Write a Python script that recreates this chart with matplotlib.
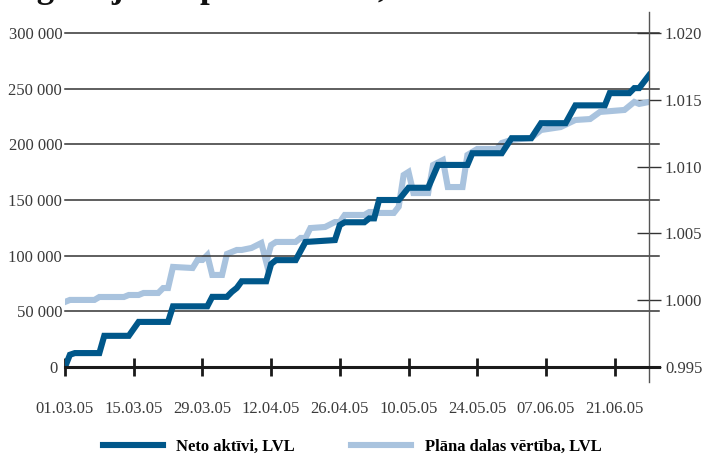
import matplotlib
matplotlib.use("Agg")
import matplotlib.pyplot as plt
import matplotlib.transforms as mtransforms
from matplotlib.lines import Line2D
import pandas as pd

plt.rcParams['font.family'] = ['Liberation Serif', 'DejaVu Serif']

# ---- data ----
start_date = "2005-03-01"
end_date = "2005-06-28"

# Neto aktivi, LVL (left axis) : day offset from 01.03.05, value
neto_days = [0, 1, 2, 7, 8, 13, 15, 21, 22, 29, 30, 33, 34, 35, 36, 41, 42, 43, 47, 49,
             55, 56, 57, 61, 62, 63, 64, 68, 70, 74, 76, 82, 83, 89, 91, 95, 97, 102,
             104, 110, 111, 115, 116, 117, 119]
neto_vals = [0, 11000, 12500, 12500, 28000, 28000, 40500, 40500, 54500, 54500, 63000,
             63000, 67500, 71000, 77000, 77000, 92500, 96000, 96000, 112300, 114000,
             127500, 130000, 130000, 133500, 133500, 150000, 150000, 161000, 161000,
             181500, 181500, 192000, 192000, 205500, 205500, 219000, 219000, 235000,
             235000, 246000, 246000, 250500, 250500, 262000]

# Plana dalas vertiba, LVL (right axis)
plan_days = [0, 1, 6, 7, 12, 13, 15, 16, 19, 20, 21, 22, 26, 27, 28, 29, 30, 32, 33, 35,
             36, 38, 40, 41, 42, 43, 47, 48, 49, 50, 53, 55, 56, 57, 61, 62, 63, 64, 67,
             68, 69, 70, 71, 74, 75, 77, 78, 81, 82, 84, 88, 89, 91, 95, 97, 101, 104,
             107, 109, 114, 116, 117, 119]
plan_vals = [0.99987, 1.00002, 1.00002, 1.00024, 1.00024, 1.00039, 1.00039, 1.00054,
             1.00054, 1.00091, 1.00091, 1.00249, 1.00241, 1.00301, 1.00301, 1.00338,
             1.00189, 1.00189, 1.00346, 1.00376, 1.00376, 1.00391, 1.00428, 1.00286,
             1.00413, 1.00436, 1.00436, 1.00466, 1.00466, 1.00540, 1.00548, 1.00585,
             1.00585, 1.00638, 1.00638, 1.00660, 1.00660, 1.00653, 1.00653, 1.00700,
             1.00937, 1.00960, 1.00802, 1.00802, 1.01012, 1.01049, 1.00847, 1.00847,
             1.01087, 1.01132, 1.01132, 1.01177, 1.01200, 1.01214, 1.01274, 1.01296,
             1.01349, 1.01356, 1.01409, 1.01424, 1.01484, 1.01469, 1.01484]

xtick_labels = ["01.03.05", "15.03.05", "29.03.05", "12.04.05", "26.04.05",
                "10.05.05", "24.05.05", "07.06.05", "21.06.05"]
left_ticks = [0, 50000, 100000, 150000, 200000, 250000, 300000]
left_labels = ["0 ", "50 000", "100 000", "150 000", "200 000", "250 000", "300 000"]
right_ticks = [0.995, 1.000, 1.005, 1.010, 1.015, 1.020]
right_labels = ["0.995", "1.000", "1.005", "1.010", "1.015", "1.020"]

series_names = ["Neto aktīvi, LVL", "Plāna dalas vērtība, LVL"]
title_fragment = "Ieguldījumu plāna aktīvi;"

# ---- styles ----
DARK = "#00578A"
LIGHT = "#A9C3DE"
GRID = "#333333"
TXT = "#3a3a3a"

t0 = pd.Timestamp(start_date)
neto_x = [t0 + pd.Timedelta(days=d) for d in neto_days]
plan_x = [t0 + pd.Timedelta(days=d) for d in plan_days]
xt = [pd.Timestamp(pd.to_datetime(s, format="%d.%m.%y")) for s in xtick_labels]

fig = plt.figure(figsize=(7.04, 4.59), dpi=100)
ax = fig.add_axes([65/704, 1-367/459, (649-65)/704, (367-33)/459])
ax2 = ax.twinx()

ax.set_xlim(t0, pd.Timestamp(end_date))
ax.set_ylim(0, 300000)
ax2.set_ylim(0.995, 1.020)

ax2.plot(plan_x, plan_vals, color=LIGHT, lw=4.4, solid_joinstyle='miter', zorder=2)
ax.plot(neto_x, neto_vals, color=DARK, lw=4.4, solid_joinstyle='miter', zorder=3)
ax.set_zorder(ax2.get_zorder() + 1)
ax.patch.set_visible(False)

for a in (ax, ax2):
    for s in a.spines.values():
        s.set_visible(False)

trans = mtransforms.blended_transform_factory(ax.transAxes, ax.transData)
for v in left_ticks[1:]:
    ax.plot([0, 1.017], [v, v], transform=trans, color=GRID, lw=1.1, clip_on=False, zorder=1)
ax.plot([0, 1.017], [0, 0], transform=trans, color="#1a1a1a", lw=2.2, clip_on=False, zorder=4)
# right axis line
ax.plot([1, 1], [-0.045, 1.063], transform=ax.transAxes, color="#555555", lw=1.0,
        clip_on=False, zorder=1)

ax.set_yticks(left_ticks)
ax.set_yticklabels(left_labels)
ax.tick_params(axis='y', length=0, pad=2, labelsize=12, labelcolor=TXT)

ax.set_xticks(xt)
ax.set_xticklabels(xtick_labels)
ax.tick_params(axis='x', direction='inout', length=13, width=2.0, color="#1a1a1a",
               pad=18, labelsize=12, labelcolor=TXT)

ax2.set_yticks(right_ticks)
ax2.set_yticklabels(right_labels)
ax2.tick_params(axis='y', direction='inout', length=17, width=1.0, color="#333333",
                pad=3, labelsize=12, labelcolor=TXT)

handles = [Line2D([], [], color=DARK, lw=4.4), Line2D([], [], color=LIGHT, lw=4.4)]
fig.legend(handles, series_names, loc='center', bbox_to_anchor=(0.5, 1-447/459),
           ncol=2, frameon=False, handlelength=3.6, handletextpad=0.8,
           columnspacing=3.4, prop={'weight': 'bold', 'size': 12})

# top title, cropped by the figure edge in the reference (only descenders visible)
fig.text(8/704, 1 + 3/459, title_fragment, fontsize=25, fontweight='bold',
         ha='left', va='baseline', color='#111111')

fig.savefig("out.png", dpi=100)
